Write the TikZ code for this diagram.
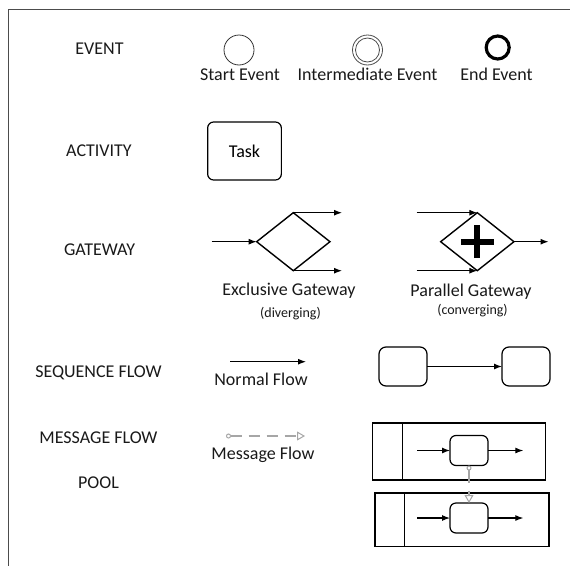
\documentclass[tikz,border=0pt]{standalone}
\usepackage{fontspec}
\setmainfont{Carlito}
\usetikzlibrary{arrows.meta,shapes.geometric}
\begin{document}
\begin{tikzpicture}[x=1pt,y=-1pt,
  lbl/.style={font=\fontsize{18}{21}\selectfont, inner sep=0pt, text height=11.6pt, text depth=0pt, text=black!90},
  small/.style={font=\fontsize{14}{16}\selectfont, inner sep=0pt, text height=9pt, text depth=0pt, text=black!90},
  flow/.style={line width=1.1pt, -{Latex[length=8pt,width=6pt]}},
  msg/.style={line width=1.2pt, draw=black!35, dash pattern=on 11pt off 7pt,
    {Circle[open,length=5pt,width=5pt,line width=1pt]}-{Triangle[open,length=8pt,width=9pt,line width=1pt]}},
  rbox/.style={draw, line width=1.2pt, rounded corners=6pt, inner sep=0pt, outer sep=0pt},
  gw/.style={draw, diamond, line width=1.4pt, inner sep=0pt, outer sep=0pt, minimum width=73.3pt, minimum height=58pt},
  pool/.style={draw, line width=1.5pt, inner sep=0pt, outer sep=0pt}]
\useasboundingbox (0,0) rectangle (570,565);
% frame
\draw[line width=1.5pt, black!70] (8.3,566) -- (8.3,9.3) -- (571,9.3);

% left labels
\node[lbl] (lev) at (99.5,49) {EVENT};
\node[lbl] (lact) at (99,151) {ACTIVITY};
\node[lbl] (lgw) at (99.5,249.5) {GATEWAY};
\node[lbl] (lseq) at (98.5,371.5) {SEQUENCE FLOW};
\node[lbl] (lmsg) at (98.5,437.5) {MESSAGE FLOW};
\node[lbl] (lpool) at (98.5,483) {POOL};

% events
\node[circle, draw=black!80, line width=0.8pt, minimum size=30pt, inner sep=0pt] (se) at (239,50) {};
\node[lbl] (set) at (240,74.5) {Start Event};
\node[circle, draw=black!70, line width=0.8pt, minimum size=30pt, inner sep=0pt] (ie) at (367.5,50) {};
\node[circle, draw=black!70, line width=0.8pt, minimum size=24pt, inner sep=0pt] (iei) at (ie.center) {};
\node[lbl] (iet) at (367.5,74.5) {Intermediate Event};
\node[circle, draw, line width=3.2pt, minimum size=23pt, inner sep=0pt] (ee) at (497.7,47.5) {};
\node[lbl] (eet) at (496.5,74.5) {End Event};

% activity
\node[rbox, minimum width=73.7pt, minimum height=58pt, font=\fontsize{18}{21}\selectfont] (task) at (244.5,151) {Task};

% exclusive gateway
\node[gw] (eg) at (293.3,241.7) {};
\coordinate (ein) at (211.7,241.7);
\coordinate (eo1) at (342,212.7);
\coordinate (eo2) at (342,270.7);
\draw[flow] (ein) -- (eg.west);
\draw[flow] (eg.north) -- (eo1);
\draw[flow] (eg.south) -- (eo2);
\node[lbl] (egt) at (289,290) {Exclusive Gateway};
\node[small] (egs) at (290.5,312.5) {(diverging)};

% parallel gateway
\node[gw] (pg) at (477.3,241.7) {};
\draw[line width=6pt] ([xshift=-16.5pt]pg.center) -- ([xshift=16.5pt]pg.center);
\draw[line width=6pt] ([yshift=-16.5pt]pg.center) -- ([yshift=16.5pt]pg.center);
\coordinate (pi1) at (416.7,212.7);
\coordinate (pi2) at (416.7,270.7);
\coordinate (po) at (548.5,241.7);
\draw[flow] (pi1) -- (pg.north);
\draw[flow] (pi2) -- (pg.south);
\draw[flow] (pg.east) -- (po);
\node[lbl] (pgt) at (471,291) {Parallel Gateway};
\node[small] (pgs) at (472.5,310) {(converging)};

% sequence flow
\coordinate (nfs) at (230,361.7);
\coordinate (nfe) at (306,361.7);
\draw[flow] (nfs) -- (nfe);
\node[lbl] (nft) at (261,379.5) {Normal Flow};
\node[rbox, minimum width=48pt, minimum height=39pt, rounded corners=7pt] (sa) at (403,366.5) {};
\node[rbox, minimum width=48pt, minimum height=39pt, rounded corners=7pt] (sb) at (526,366.5) {};
\draw[flow] (sa.east) -- (sb.west);

% message flow legend
\coordinate (mfs) at (226,436);
\coordinate (mfe) at (305,436);
\draw[msg] (mfs) -- (mfe);
\node[lbl] (mft) at (263,453.5) {Message Flow};

% pools
\node[pool, minimum width=173pt, minimum height=57pt] (p1) at (459.2,451.5) {};
\draw[line width=1.5pt] ([xshift=29.6pt]p1.north west) -- ([xshift=29.6pt]p1.south west);
\node[pool, minimum width=174pt, minimum height=53.7pt] (p2) at (462,519.8) {};
\draw[line width=1.5pt] ([xshift=29.7pt]p2.north west) -- ([xshift=29.7pt]p2.south west);

\node[rbox, minimum width=38pt, minimum height=30pt, rounded corners=6pt] (t1) at (469,450.5) {};
\node[rbox, minimum width=38pt, minimum height=30pt, rounded corners=6pt] (t2) at (469,518) {};
\coordinate (a1s) at (417.3,450.5);
\coordinate (a1e) at (523.3,450.5);
\coordinate (a2s) at (417.3,518);
\coordinate (a2e) at (523.3,518);
\draw[flow] (a1s) -- (t1.west);
\draw[flow] (t1.east) -- (a1e);
\draw[flow] (a2s) -- (t2.west);
\draw[flow] (t2.east) -- (a2e);
\draw[msg, dash pattern=on 13pt off 8pt] (t1.south) -- (t2.north);
\end{tikzpicture}
\end{document}
